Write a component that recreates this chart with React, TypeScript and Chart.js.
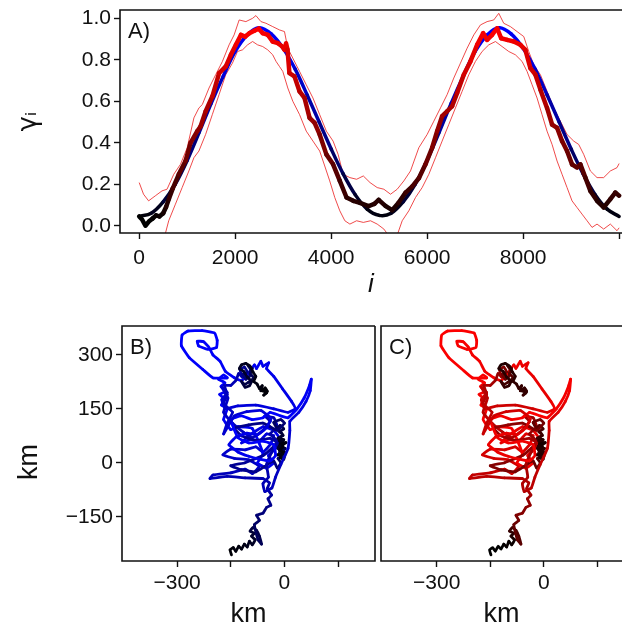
import React, { useEffect, useRef } from 'react';
import { Chart, registerables } from 'chart.js';
Chart.register(...registerables);

const FONT = "'Liberation Sans', Arial, Helvetica, sans-serif";

// ---------- Panel A data ----------
const trueI = [0,250,500,750,1000,1250,1500,1750,2000,2250,2500,2750,3000,3250,3500,3750,4000,4250,4500,4750,5000,5250,5500,5750,6000,6250,6500,6750,7000,7250,7500,7750,8000,8250,8500,8750,9000,9250,9500,9750,10000];
const trueGamma = [0.045,0.06,0.115,0.2,0.315,0.45,0.59,0.72,0.84,0.92,0.955,0.925,0.855,0.755,0.63,0.5,0.37,0.25,0.15,0.08,0.05,0.06,0.115,0.2,0.315,0.45,0.59,0.72,0.84,0.92,0.955,0.925,0.855,0.755,0.63,0.5,0.37,0.25,0.15,0.08,0.045];

const estI = [0,60,130,200,280,350,420,500,560,620,700,825,965,1070,1210,1280,1385,1525,1665,1805,1910,2015,2120,2210,2295,2400,2490,2575,2680,2780,2890,2980,3030,3060,3090,3130,3235,3340,3445,3550,3655,3760,3900,4040,4180,4320,4460,4600,4780,4900,4990,5130,5270,5400,5550,5690,5830,5965,6104,6208,6312,6416,6520,6625,6763,6902,7041,7166,7249,7353,7457,7541,7666,7804,7943,8047,8151,8256,8360,8498,8603,8707,8811,8915,9019,9123,9193,9297,9401,9540,9678,9817,9921,10000];
const estGamma = [0.045,0.03,0.0,0.02,0.035,0.05,0.045,0.06,0.09,0.13,0.18,0.248,0.312,0.40,0.456,0.48,0.552,0.624,0.736,0.768,0.824,0.872,0.92,0.912,0.928,0.94,0.95,0.928,0.92,0.888,0.88,0.864,0.848,0.88,0.85,0.736,0.72,0.648,0.616,0.52,0.496,0.44,0.344,0.296,0.216,0.136,0.12,0.11,0.095,0.105,0.125,0.096,0.075,0.11,0.16,0.19,0.23,0.296,0.376,0.456,0.528,0.552,0.576,0.64,0.728,0.792,0.872,0.928,0.896,0.92,0.952,0.904,0.896,0.888,0.872,0.848,0.76,0.728,0.656,0.568,0.488,0.472,0.408,0.36,0.296,0.28,0.296,0.232,0.168,0.12,0.088,0.128,0.16,0.145];

const upperI = [0,90,196,335,475,580,720,860,1000,1140,1245,1315,1455,1594,1734,1873,1978,2083,2223,2363,2432,2537,2642,2782,2922,3027,3096,3201,3341,3480,3620,3760,3900,4040,4145,4250,4390,4530,4670,4810,4959,5098,5237,5376,5514,5653,5826,6000,6139,6278,6416,6555,6694,6833,6972,7110,7249,7388,7492,7596,7735,7874,8013,8117,8221,8360,8498,8637,8776,8915,9054,9158,9262,9401,9540,9678,9817,9956,10000];
const upperGamma = [0.208,0.152,0.12,0.144,0.168,0.176,0.248,0.296,0.376,0.52,0.568,0.584,0.664,0.728,0.792,0.872,0.92,0.992,0.984,1.0,1.013,0.984,0.976,0.96,0.944,0.936,0.856,0.808,0.744,0.68,0.616,0.536,0.456,0.408,0.344,0.248,0.232,0.224,0.24,0.208,0.184,0.176,0.152,0.176,0.216,0.264,0.376,0.44,0.504,0.568,0.632,0.712,0.784,0.856,0.92,0.968,0.984,0.992,1.024,0.976,0.96,0.936,0.912,0.84,0.776,0.728,0.648,0.568,0.504,0.44,0.408,0.392,0.344,0.264,0.232,0.232,0.264,0.28,0.3];

const lowerI = [520,615,755,895,1035,1140,1244,1384,1524,1664,1803,1943,2048,2153,2258,2363,2467,2572,2677,2782,2852,2922,2992,3096,3201,3341,3481,3621,3761,3866,3970,4075,4180,4285,4390,4530,4670,4820,4959,5098,5237,5376,5480,5618,5757,5896,6035,6174,6312,6451,6590,6729,6868,7006,7145,7284,7423,7561,7700,7839,7978,8082,8186,8290,8394,8498,8603,8707,8811,8915,9019,9123,9227,9332,9436,9540,9678,9817,9956,10000];
const lowerGamma = [-0.06,0.024,0.104,0.184,0.264,0.328,0.36,0.44,0.536,0.632,0.728,0.784,0.84,0.848,0.872,0.888,0.872,0.864,0.848,0.824,0.792,0.768,0.744,0.664,0.6,0.536,0.456,0.408,0.36,0.288,0.216,0.136,0.072,0.024,0.008,0.024,0.016,0.024,0.008,-0.016,-0.06,-0.045,0.024,0.072,0.136,0.184,0.248,0.328,0.408,0.488,0.568,0.648,0.728,0.792,0.84,0.872,0.888,0.864,0.84,0.824,0.792,0.744,0.68,0.616,0.536,0.456,0.392,0.312,0.248,0.184,0.12,0.088,0.056,0.024,-0.008,0.008,-0.016,0.008,-0.024,-0.01];

const aXTicks = [0,2000,4000,6000,8000,10000];
const aXLabelled = [0,2000,4000,6000,8000];
const aYTicks = [0,0.2,0.4,0.6,0.8,1.0];

// ---------- Panels B / C data (track, km) ----------
const kmXTicks = [-300,-150,0,150];
const kmXLabelled = [-300,0];
const kmYTicks = [-150,0,150,300];

const trajI = [
0,50,100,150,200,250,300,350,400,450,500,550,600,650,700,750,800,850,900,950,1000,
1060,1120,1180,1240,1300,1360,1420,1480,
1510,1530,1550,1570,1590,1610,1630,1650,1670,1690,1710,1730,1750,1770,1790,1810,1830,1850,1870,1890,1910,1930,1950,1970,1990,2010,2030,2050,2070,2090,2110,2130,2150,2170,2190,
2200,2210,2220,2230,2240,2250,2260,2270,2280,2295,2310,
2330,2360,2390,2420,2450,2480,2510,2540,2570,2600,2620,2640,2660,2680,2700,2720,2750,2780,2810,
2835,2855,2875,2895,2915,2935,2955,2975,2995,3015,3040,3070,3100,3130,3160,3190,3220,3250,3280,3310,3340,3370,3400,3430,3460,3490,3520,3550,3580,3610,3640,3670,3700,3730,3760,3790,3820,3850,3880,3920,3980,
4080,4130,4180,4230,4280,4330,4380,4430,4480,4530,4580,4630,4680,4730,4780,4830,4880,4930,4980,5030,5080,5130,5180,5230,5280,5330,5380,5430,5480,5530,5580,5630,5680,5740,5820,5920,
5980,6020,6060,6100,6140,6180,6220,6260,6300,6340,6380,6420,6460,6500,6530,6560,6590,6620,6650,6680,
6730,6800,6870,6940,7010,7080,7150,7190,7260,7330,7400,
7440,7475,7510,7545,7580,7615,7650,7685,7720,7755,7790,7825,7860,7895,7930,7965,8000,8035,8070,8105,8140,8175,8210,8245,8280,8315,8350,8385,8420,8455,8490,
8560,8620,8680,8740,8800,8860,8920,8980,9030,9080,9130,9180,9230,9280,9320,9360,9400,9440,9480,9520,9560,9600,9640,9680,9710,9740,9770,9800,9825,9850,9870,9890,9910,9925,9940,9955,9968,9980,9990,10000];
const trajX = [
-148,-152,-143,-136,-128,-120,-112,-104,-98,-90,-82,-92,-84,-96,-88,-78,-70,-64,-74,-84,-70,
-78,-60,-50,-38,-46,-36,-48,-42,
-60,-110,-160,-208,-200,-150,-110,-90,-70,-100,-140,-172,-150,-110,-80,-60,-40,-30,-50,-70,-95,-120,-100,-60,-30,-15,-25,-45,-30,-50,-75,-60,-90,-130,-150,
-170,-160,-176,-168,-182,-164,-178,-166,-184,-170,-160,
-200,-228,-266,-288,-286,-270,-230,-195,-188,-190,-215,-240,-244,-226,-212,-200,-180,-165,-140,
-120,-100,-84,-78,-66,-60,-44,-50,-30,-5,20,30,10,-30,-80,-130,-165,-175,-160,-175,-158,-170,-145,-115,-90,-60,-40,-55,-30,-20,-40,-20,-35,-60,-110,-150,-120,-80,-55,-30,-20,
-10,-18,-6,-14,-2,-10,2,-6,-18,-8,-16,-4,-12,0,-8,-20,-10,-12,-2,2,-14,-4,-6,4,-14,-8,-2,-16,-10,-18,-4,-8,-14,-2,-12,-20,
-30,-10,0,-20,-40,-60,-100,-140,-120,-80,-40,-20,-35,-50,-45,-60,-55,-35,-25,-10,
10,15,15,40,60,72,75,70,55,35,10,
-10,-40,-60,-90,-120,-150,-130,-100,-60,-30,-25,-40,-70,-100,-130,-155,-135,-105,-75,-50,-38,-65,-105,-140,-170,-160,-145,-170,-160,-168,-150,
-135,-128,-118,-124,-112,-104,-116,-108,-98,-94,-102,-90,-96,-86,-100,-112,-120,-110,-98,-92,-104,-114,-126,-120,-108,-96,-88,-80,-86,-76,-70,-62,-66,-56,-50,-58,-48,-54,-62,-50];
const trajY = [
-256,-242,-236,-246,-232,-240,-226,-234,-218,-228,-214,-204,-196,-190,-180,-188,-204,-226,-214,-172,-160,
-146,-140,-124,-118,-100,-90,-72,-56,
-44,-42,-38,-44,-34,-28,-18,-30,-10,8,12,22,38,36,44,30,50,75,80,60,65,55,75,100,90,70,40,20,0,-15,0,25,95,100,92,
120,150,160,178,190,198,212,222,232,244,236,
236,259,292,325,355,366,367,360,340,320,315,325,338,336,322,300,282,254,236,
228,250,272,262,282,268,278,262,240,205,170,150,140,150,160,158,150,175,195,210,180,140,110,85,70,90,115,130,125,100,80,60,40,20,0,-8,-20,-25,-10,5,-15,
0,12,18,28,30,42,40,30,40,52,46,60,36,24,24,22,20,14,10,28,34,44,48,56,54,66,64,58,72,68,76,82,86,94,104,96,
112,120,110,90,100,110,105,96,75,62,68,55,30,-5,-40,-58,-80,-70,-40,-5,
40,90,115,140,170,200,232,215,180,150,125,
130,140,125,120,130,120,70,55,60,50,20,5,10,18,30,50,72,82,78,98,122,145,142,130,80,110,140,165,190,215,215,
230,248,238,258,266,252,246,232,240,258,270,262,248,236,224,218,226,210,214,226,238,254,262,272,276,268,252,240,226,218,206,214,200,204,194,188,198,208,200,196];

// ---------- helpers ----------
function interp(xs: number[], ys: number[], x: number): number {
  if (x <= xs[0]) return ys[0];
  for (let k = 1; k < xs.length; k++) {
    if (x <= xs[k]) {
      const t = (x - xs[k - 1]) / (xs[k] - xs[k - 1]);
      return ys[k - 1] + t * (ys[k] - ys[k - 1]);
    }
  }
  return ys[ys.length - 1];
}
const level = (g: number) => Math.round(255 * Math.pow(Math.max(0, Math.min(1, (g - 0.04) / 0.92)), 0.75));
const blueOf = (g: number) => `rgb(0,0,${level(g)})`;
const redOf = (g: number) => `rgb(${level(g)},0,0)`;
const pts = (xs: number[], ys: number[]) => xs.map((x, k) => ({ x, y: ys[k] }));
const fmtKm = (v: number) => (v < 0 ? '\u2212' + Math.abs(v) : String(v));

const zeroPad = (s: any) => { s.paddingTop = 0; s.paddingBottom = 0; s.paddingLeft = 0; s.paddingRight = 0; };

const framePlugin = {
  id: 'frame',
  afterDatasetsDraw(chart: any, _args: any, opts: any) {
    const { ctx, chartArea } = chart;
    const { left, top, right, bottom } = chartArea;
    ctx.save();
    ctx.strokeStyle = '#111';
    ctx.lineWidth = 1.6;
    ctx.beginPath();
    ctx.moveTo(opts.right ? right : right + 2, top);
    ctx.lineTo(left, top);
    ctx.lineTo(left, bottom);
    ctx.lineTo(opts.right ? right : right + 2, bottom);
    if (opts.right) ctx.lineTo(right, top);
    ctx.stroke();
    ctx.fillStyle = '#111';
    ctx.font = `22px ${FONT}`;
    ctx.textBaseline = 'middle';
    ctx.textAlign = 'left';
    ctx.fillText(opts.label, left + 8, top + 22);
    if (opts.ytitle) {
      ctx.save();
      ctx.translate(opts.ytitle.x, opts.ytitle.y);
      ctx.rotate(-Math.PI / 2);
      ctx.textAlign = 'center';
      ctx.font = `27px ${FONT}`;
      ctx.fillText(opts.ytitle.text, 0, 0);
      ctx.restore();
    }
    ctx.restore();
  },
};

const tickGrid = { display: true, drawOnChartArea: false, drawTicks: true, tickLength: 6, tickColor: '#111', tickWidth: 1.4 };
const TICKFONT = { family: FONT, size: 21 };

function makeA(): any {
  return {
    type: 'line',
    data: {
      datasets: [
        {
          data: pts(estI, estGamma), borderWidth: 4.5, pointRadius: 0, tension: 0,
          borderJoinStyle: 'round', borderCapStyle: 'round', borderColor: '#c00',
          segment: { borderColor: (c: any) => redOf((c.p0.parsed.y + c.p1.parsed.y) / 2) },
        },
        {
          data: pts(trueI, trueGamma), borderWidth: 3.5, pointRadius: 0, tension: 0.35,
          borderCapStyle: 'round', borderJoinStyle: 'round', borderColor: '#00c',
          segment: { borderColor: (c: any) => blueOf((c.p0.parsed.y + c.p1.parsed.y) / 2) },
        },
        { data: pts(upperI, upperGamma), borderWidth: 1, pointRadius: 0, tension: 0, borderColor: 'rgba(235,30,30,0.8)' },
        { data: pts(lowerI, lowerGamma), borderWidth: 1, pointRadius: 0, tension: 0, borderColor: 'rgba(235,30,30,0.8)' },
      ],
    },
    options: {
      responsive: false, animation: false, devicePixelRatio: 1, events: [],
      layout: { padding: { left: 0, top: 10, right: 0, bottom: 0 } },
      plugins: { legend: { display: false }, tooltip: { enabled: false }, frame: { label: 'A)', right: false } },
      scales: {
        x: {
          type: 'linear', min: -400, max: 10060,
          afterBuildTicks: (s: any) => { s.ticks = aXTicks.map((v) => ({ value: v })); },
          afterFit: (s: any) => { s.height = 67; zeroPad(s); },
          ticks: { autoSkip: false, maxRotation: 0, padding: 7, color: '#111', font: TICKFONT,
            callback: (v: number) => (aXLabelled.includes(v) ? String(v) : '') },
          grid: tickGrid, border: { display: false },
          title: { display: true, text: 'i', color: '#111', font: { family: FONT, size: 26, style: 'italic' }, padding: { top: 0, bottom: 0 } },
        },
        y: {
          type: 'linear', min: -0.035, max: 1.04,
          afterBuildTicks: (s: any) => { s.ticks = aYTicks.map((v) => ({ value: v })); },
          afterFit: (s: any) => { s.width = 120; zeroPad(s); },
          ticks: { padding: 3, color: '#111', font: TICKFONT, callback: (v: number) => v.toFixed(1) },
          grid: tickGrid, border: { display: false },
          title: { display: true, text: '\u03b3\u1d62', color: '#111', font: { family: "'DejaVu Sans', sans-serif", size: 26 }, padding: { top: 14, bottom: 0 } },
        },
      },
    },
    plugins: [framePlugin],
  };
}

function makeTrack(which: 'B' | 'C'): any {
  const isB = which === 'B';
  const colorFn = (c: any) => {
    const i = (trajI[c.p0DataIndex] + trajI[c.p1DataIndex]) / 2;
    return isB ? blueOf(interp(trueI, trueGamma, i)) : redOf(interp(estI, estGamma, i));
  };
  return {
    type: 'line',
    data: {
      datasets: [{
        data: pts(trajX, trajY), borderWidth: 2.8, pointRadius: 0, tension: 0.12,
        borderJoinStyle: 'round', borderCapStyle: 'round', borderColor: isB ? '#00e' : '#e00',
        segment: { borderColor: colorFn },
      }],
    },
    options: {
      responsive: false, animation: false, devicePixelRatio: 1, events: [],
      layout: { padding: { left: isB ? 0 : 3, top: 26, right: isB ? 3 : 0, bottom: 0 } },
      plugins: {
        legend: { display: false }, tooltip: { enabled: false },
        frame: { label: isB ? 'B)' : 'C)', right: isB, ytitle: isB ? { text: 'km', x: 30, y: 162 } : null },
      },
      scales: {
        x: {
          type: 'linear', min: isB ? -454 : -456, max: isB ? 253 : 219,
          afterBuildTicks: (s: any) => { s.ticks = kmXTicks.map((v) => ({ value: v })); },
          afterFit: (s: any) => { s.height = 68; zeroPad(s); },
          ticks: { autoSkip: false, maxRotation: 0, padding: 4, color: '#111', font: TICKFONT,
            callback: (v: number) => (kmXLabelled.includes(v) ? fmtKm(v) : '') },
          grid: tickGrid, border: { display: false },
          title: { display: true, text: 'km', color: '#111', font: { family: FONT, size: 27, lineHeight: 1 }, padding: { top: 0, bottom: 1 } },
        },
        y: {
          display: isB,
          type: 'linear', min: -273, max: 380,
          afterBuildTicks: (s: any) => { s.ticks = kmYTicks.map((v) => ({ value: v })); },
          afterFit: (s: any) => { s.width = isB ? 122 : 0; zeroPad(s); },
          ticks: { padding: 3, color: '#111', font: TICKFONT, callback: (v: number) => fmtKm(v) },
          grid: tickGrid, border: { display: false },
          title: { display: false },
        },
      },
    },
    plugins: [framePlugin],
  };
}

function ChartBox(props: { make: () => any; left: number; top: number; width: number; height: number }) {
  const ref = useRef<HTMLCanvasElement>(null);
  useEffect(() => {
    const chart = new Chart(ref.current as HTMLCanvasElement, props.make());
    return () => chart.destroy();
  }, []);
  return (
    <canvas ref={ref} width={props.width} height={props.height}
      style={{ position: 'absolute', left: props.left, top: props.top, width: props.width, height: props.height }} />
  );
}

export default function App() {
  return (
    <div style={{ position: 'absolute', left: 0, top: 0, width: 622, height: 629, background: '#fff', overflow: 'hidden' }}>
      <ChartBox make={makeA} left={0} top={0} width={622} height={300} />
      <ChartBox make={() => makeTrack('B')} left={0} top={300} width={378} height={329} />
      <ChartBox make={() => makeTrack('C')} left={378} top={300} width={244} height={329} />
    </div>
  );
}
